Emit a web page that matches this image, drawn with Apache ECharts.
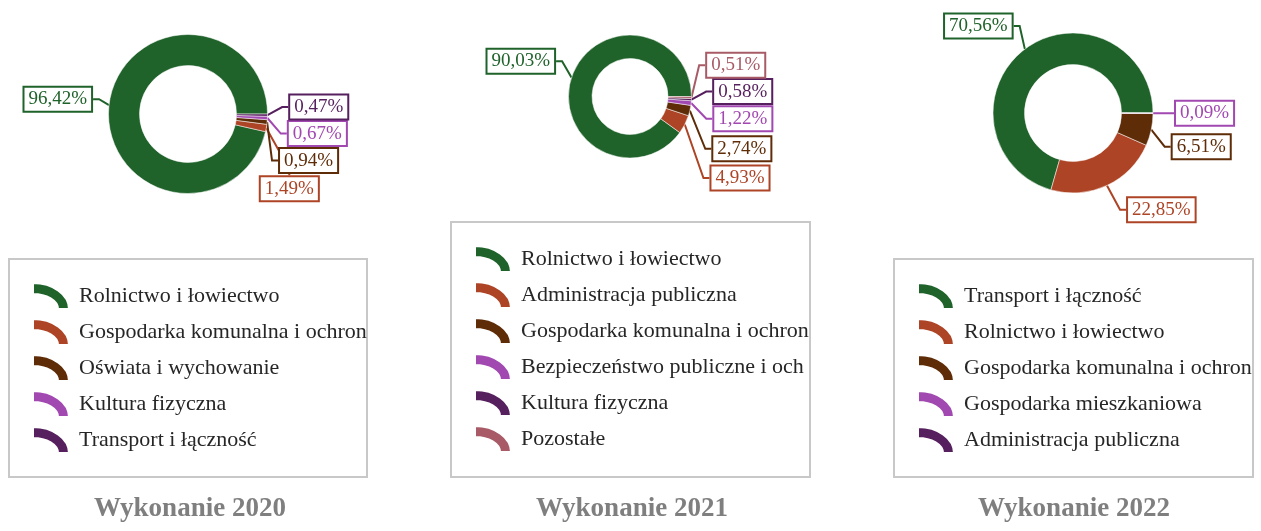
<!DOCTYPE html>
<html>
<head>
<meta charset="utf-8">
<script src="https://cdn.jsdelivr.net/npm/echarts@6/dist/echarts.min.js"></script>
<style>
  html, body { margin: 0; padding: 0; background: #fff; }
  .ch { position: absolute; top: 0; height: 531px; }
</style>
</head>
<body>
<div id="c1" class="ch" style="left:0;width:420px"></div>
<div id="c2" class="ch" style="left:420px;width:420px"></div>
<div id="c3" class="ch" style="left:840px;width:421px"></div>
<script>
// dane
const names2020 = ['Rolnictwo i łowiectwo', 'Gospodarka komunalna i ochrona środowiska', 'Oświata i wychowanie', 'Kultura fizyczna', 'Transport i łączność'];
const values2020 = [96.42, 1.49, 0.94, 0.67, 0.47];

const names2021 = ['Rolnictwo i łowiectwo', 'Administracja publiczna', 'Gospodarka komunalna i ochrona środowiska', 'Bezpieczeństwo publiczne i ochrona przeciwpożarowa', 'Kultura fizyczna', 'Pozostałe'];
const values2021 = [90.03, 4.93, 2.74, 1.22, 0.58, 0.51];

const names2022 = ['Transport i łączność', 'Rolnictwo i łowiectwo', 'Gospodarka komunalna i ochrona środowiska', 'Gospodarka mieszkaniowa', 'Administracja publiczna'];
const values2022 = [70.56, 22.85, 6.51, 0.09, 0];

const colors = ['#1f622a', '#ad4426', '#5f2c08', '#a148b1', '#561f5e', '#a85b66'];
const font = 'Liberation Serif';
const arcIcon = 'path://M0,0 A36,26 0 0 1 36,26 L25,26 A25,15 0 0 0 0,11 Z';

function getOption(cfg) {
  let data = [];
  let total = 0;
  for (let i = 0; i < cfg.names.length; i++) {
    data.push({ name: cfg.names[i], value: cfg.values[i] });
    total += cfg.values[i];
  }
  // kat srodka wycinka (przeciwnie do wskazowek zegara od godz. 3)
  let mids = [], cum = 0;
  cfg.values.forEach(v => { mids.push((cum + v / 2) / total * 2 * Math.PI); cum += v; });

  const box = cfg.box; // ramka legendy
  return {
    color: colors,
    animation: false,
    legend: {
      orient: 'vertical',
      left: box[0] + 23,
      top: box[1] + 23,
      icon: arcIcon,
      itemWidth: 36,
      itemHeight: 26,
      itemGap: 8,
      padding: 0,
      selectedMode: false,
      data: cfg.names,
      textStyle: {
        fontFamily: font,
        fontSize: 22,
        lineHeight: 26,
        color: '#262626',
        width: box[2] - 23 - 36 - 10,
        padding: [0, 0, 0, 5],
        overflow: 'truncate',
        ellipsis: ''
      }
    },
    graphic: [{
      type: 'rect',
      shape: { x: box[0], y: box[1], width: box[2], height: box[3] },
      style: { fill: 'none', stroke: '#c8c8c8', lineWidth: 2 },
      z: -1
    }, {
      type: 'text',
      x: cfg.titleX,
      y: 509,
      style: {
        text: cfg.title,
        align: 'center',
        verticalAlign: 'middle',
        font: 'bold 27px "Liberation Serif"',
        fill: '#7f7f7f'
      }
    }],
    series: [{
      type: 'pie',
      left: 0,
      top: 0,
      width: 420,
      height: cfg.labelBottom,
      center: [cfg.cx, cfg.cy],
      radius: [cfg.r0, cfg.r],
      startAngle: 0,
      clockwise: false,
      minShowLabelAngle: 0.1,
      itemStyle: { borderColor: '#fff', borderWidth: 0.5 },
      label: {
        position: 'outside',
        formatter: p => p.value.toFixed(2).replace('.', ',') + '%',
        fontFamily: font,
        fontSize: 19,
        lineHeight: 20,
        color: 'inherit',
        backgroundColor: '#fff',
        borderColor: 'inherit',
        borderWidth: 2,
        padding: [2, 4, 1, 4],
        minMargin: -2
      },
      labelLine: { length: 12, length2: 6, lineStyle: { width: 2 } },
      labelLayout: function (p) {
        // etykieta "zwisa" od konca linii w strone od srodka
        const r = p.labelRect;
        let k = -Math.sin(mids[p.dataIndex]) * 3;
        k = Math.max(-1, Math.min(1, k));
        const x = p.align === 'right' ? r.x + r.width + 3 : r.x + 7;
        return { x: x, y: r.y + r.height / 2 + k * r.height / 2 };
      },
      emphasis: { disabled: true },
      data: data
    }]
  };
}

const charts = [
  { id: 'c1', names: names2020, values: values2020, cx: 188, cy: 114, r0: 48.5, r: 79.5, labelBottom: 194,
    box: [9, 259, 358, 218], title: 'Wykonanie 2020', titleX: 190 },
  { id: 'c2', names: names2021, values: values2021, cx: 210, cy: 96.5, r0: 38, r: 61.5, labelBottom: 177,
    box: [31, 222, 359, 255], title: 'Wykonanie 2021', titleX: 212 },
  { id: 'c3', names: names2022, values: values2022, cx: 233, cy: 113, r0: 48.5, r: 80, labelBottom: 240,
    box: [54, 259, 359, 218], title: 'Wykonanie 2022', titleX: 234 }
];
charts.forEach(c => {
  let chart = echarts.init(document.getElementById(c.id), null, { renderer: 'canvas' });
  chart.setOption(getOption(c));
});
</script>
</body>
</html>
